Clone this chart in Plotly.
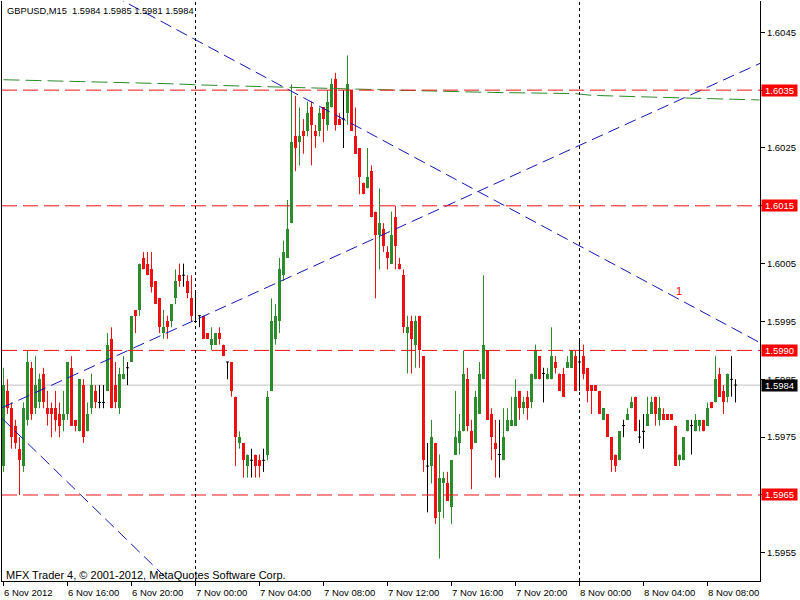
import plotly.graph_objects as go
from datetime import datetime, timedelta

# ---------------- data ----------------
start_time = datetime(2012, 11, 6, 12, 0)
bar_minutes = 15

opens = [1.5970, 1.5983, 1.5980, 1.5977, 1.5973, 1.5970, 1.5978, 1.5987, 1.5980, 1.5981,
         1.5986, 1.5980, 1.5980, 1.5980, 1.5979, 1.5978, 1.5979, 1.5987, 1.5978, 1.5976,
         1.5984, 1.5976, 1.5980, 1.5983, 1.5981, 1.5981, 1.5983, 1.5992, 1.5984, 1.5980,
         1.5985, 1.5987, 1.5988, 1.5997, 1.5997, 1.6006, 1.6005, 1.6004, 1.6002, 1.5999,
         1.5993, 1.5995, 1.5995, 1.5999, 1.6003, 1.6003, 1.6002, 1.5999, 1.5995, 1.5996,
         1.5996, 1.5993, 1.5991, 1.5991, 1.5993, 1.5991, 1.5988, 1.5988, 1.5982, 1.5974,
         1.5974, 1.5970, 1.5971, 1.5972, 1.5971, 1.5971, 1.5972, 1.5983, 1.5992, 1.5995,
         1.6003, 1.6006, 1.6012, 1.6027, 1.6026, 1.6028, 1.6028, 1.6032, 1.6028, 1.6028,
         1.6032, 1.6029, 1.6032, 1.6037, 1.6030, 1.6030, 1.6031, 1.6035, 1.6027, 1.6025,
         1.6019, 1.6018, 1.6021, 1.6014, 1.6010, 1.6011, 1.6007, 1.6005, 1.6013, 1.6005,
         1.6003, 1.5993, 1.5995, 1.5991, 1.5996, 1.5989, 1.5970, 1.5970, 1.5974, 1.5962,
         1.5967, 1.5967, 1.5963, 1.5972, 1.5974, 1.5976, 1.5985, 1.5976, 1.5974, 1.5979,
         1.5985, 1.5990, 1.5979, 1.5974, 1.5972, 1.5971, 1.5976, 1.5977, 1.5977, 1.5983,
         1.5980, 1.5982, 1.5981, 1.5985, 1.5989, 1.5986, 1.5985, 1.5985, 1.5988, 1.5986,
         1.5986, 1.5987, 1.5987, 1.5989, 1.5988, 1.5989, 1.5987, 1.5984, 1.5984, 1.5983,
         1.5978, 1.5979, 1.5975, 1.5972, 1.5971, 1.5977, 1.5978, 1.5980, 1.5982, 1.5975,
         1.5976, 1.5977, 1.5979, 1.5982, 1.5978, 1.5979, 1.5979, 1.5979, 1.5977, 1.5971,
         1.5971, 1.5976, 1.5977, 1.5976, 1.5977, 1.5978, 1.5977, 1.5981, 1.5981, 1.5986,
         1.5983, 1.5982, 1.5985, 1.5984]

highs = [1.5987, 1.5985, 1.5981, 1.5978, 1.5975, 1.5981, 1.5990, 1.5988, 1.5989, 1.5986,
         1.5987, 1.5983, 1.5981, 1.5983, 1.5981, 1.5983, 1.5988, 1.5989, 1.5978, 1.5985,
         1.5985, 1.5981, 1.5986, 1.5984, 1.5984, 1.5984, 1.5993, 1.5994, 1.5988, 1.5987,
         1.5989, 1.5988, 1.5996, 1.5997, 1.6005, 1.6007, 1.6007, 1.6007, 1.6002, 1.5999,
         1.5997, 1.5996, 1.5998, 1.6004, 1.6005, 1.6005, 1.6003, 1.6003, 1.6000, 1.5996,
         1.5996, 1.5993, 1.5994, 1.5993, 1.5994, 1.5991, 1.5988, 1.5988, 1.5982, 1.5976,
         1.5974, 1.5972, 1.5973, 1.5972, 1.5972, 1.5973, 1.5983, 1.5999, 1.5998, 1.6006,
         1.6009, 1.6016, 1.6036, 1.6034, 1.6032, 1.6030, 1.6033, 1.6033, 1.6029, 1.6032,
         1.6032, 1.6035, 1.6037, 1.6038, 1.6031, 1.6035, 1.6041, 1.6035, 1.6032, 1.6025,
         1.6019, 1.6025, 1.6022, 1.6014, 1.6018, 1.6012, 1.6008, 1.6014, 1.6015, 1.6006,
         1.6004, 1.5996, 1.5996, 1.5996, 1.5996, 1.5989, 1.5974, 1.5978, 1.5974, 1.5972,
         1.5969, 1.5969, 1.5971, 1.5983, 1.5979, 1.5990, 1.5987, 1.5978, 1.5983, 1.5988,
         1.6003, 1.5990, 1.5980, 1.5978, 1.5978, 1.5980, 1.5980, 1.5982, 1.5985, 1.5983,
         1.5982, 1.5983, 1.5986, 1.5991, 1.5989, 1.5987, 1.5987, 1.5994, 1.5989, 1.5986,
         1.5987, 1.5989, 1.5990, 1.5990, 1.5992, 1.5991, 1.5987, 1.5984, 1.5984, 1.5983,
         1.5980, 1.5979, 1.5975, 1.5972, 1.5976, 1.5978, 1.5980, 1.5982, 1.5982, 1.5978,
         1.5979, 1.5982, 1.5982, 1.5982, 1.5982, 1.5980, 1.5979, 1.5979, 1.5977, 1.5972,
         1.5975, 1.5978, 1.5978, 1.5979, 1.5978, 1.5978, 1.5981, 1.5981, 1.5989, 1.5987,
         1.5984, 1.5986, 1.5989, 1.5985]

lows = [1.5969, 1.5979, 1.5973, 1.5973, 1.5965, 1.5969, 1.5977, 1.5978, 1.5979, 1.5980,
        1.5980, 1.5977, 1.5975, 1.5976, 1.5975, 1.5976, 1.5978, 1.5977, 1.5976, 1.5976,
        1.5974, 1.5976, 1.5979, 1.5980, 1.5980, 1.5980, 1.5983, 1.5980, 1.5980, 1.5979,
        1.5985, 1.5984, 1.5988, 1.5993, 1.5996, 1.6004, 1.6003, 1.6000, 1.5998, 1.5993,
        1.5992, 1.5992, 1.5994, 1.5998, 1.6001, 1.6001, 1.5999, 1.5995, 1.5995, 1.5994,
        1.5992, 1.5992, 1.5990, 1.5991, 1.5991, 1.5989, 1.5985, 1.5982, 1.5970, 1.5973,
        1.5968, 1.5968, 1.5968, 1.5968, 1.5968, 1.5969, 1.5971, 1.5983, 1.5991, 1.5993,
        1.6002, 1.6006, 1.6012, 1.6021, 1.6022, 1.6024, 1.6027, 1.6022, 1.6025, 1.6027,
        1.6026, 1.6028, 1.6032, 1.6028, 1.6029, 1.6025, 1.6029, 1.6028, 1.6024, 1.6017,
        1.6017, 1.6018, 1.6013, 1.5999, 1.6004, 1.6007, 1.6004, 1.6005, 1.6004, 1.6004,
        1.5993, 1.5986, 1.5986, 1.5987, 1.5987, 1.5969, 1.5962, 1.5967, 1.5960, 1.5954,
        1.5961, 1.5964, 1.5960, 1.5972, 1.5972, 1.5976, 1.5976, 1.5966, 1.5974, 1.5979,
        1.5985, 1.5978, 1.5971, 1.5968, 1.5968, 1.5971, 1.5976, 1.5977, 1.5977, 1.5978,
        1.5979, 1.5978, 1.5980, 1.5985, 1.5985, 1.5981, 1.5985, 1.5985, 1.5986, 1.5983,
        1.5982, 1.5987, 1.5987, 1.5983, 1.5983, 1.5985, 1.5981, 1.5979, 1.5983, 1.5979,
        1.5978, 1.5975, 1.5969, 1.5969, 1.5971, 1.5975, 1.5978, 1.5980, 1.5976, 1.5974,
        1.5973, 1.5977, 1.5979, 1.5977, 1.5977, 1.5978, 1.5978, 1.5978, 1.5970, 1.5970,
        1.5971, 1.5976, 1.5972, 1.5976, 1.5976, 1.5976, 1.5977, 1.5980, 1.5981, 1.5982,
        1.5979, 1.5981, 1.5982, 1.5981]

closes = [1.5984, 1.5980, 1.5975, 1.5974, 1.5971, 1.5980, 1.5988, 1.5979, 1.5984, 1.5985,
          1.5981, 1.5979, 1.5979, 1.5978, 1.5977, 1.5979, 1.5988, 1.5977, 1.5977, 1.5985,
          1.5975, 1.5979, 1.5984, 1.5981, 1.5981, 1.5981, 1.5991, 1.5980, 1.5981, 1.5986,
          1.5986, 1.5987, 1.5996, 1.5996, 1.6005, 1.6004, 1.6003, 1.6001, 1.5998, 1.5994,
          1.5994, 1.5994, 1.5998, 1.6002, 1.6002, 1.6003, 1.6000, 1.5996, 1.5995, 1.5996,
          1.5992, 1.5992, 1.5992, 1.5993, 1.5992, 1.5989, 1.5988, 1.5983, 1.5975, 1.5975,
          1.5971, 1.5972, 1.5971, 1.5970, 1.5970, 1.5971, 1.5982, 1.5995, 1.5996, 1.6004,
          1.6007, 1.6011, 1.6026, 1.6025, 1.6027, 1.6027, 1.6031, 1.6029, 1.6027, 1.6031,
          1.6030, 1.6033, 1.6036, 1.6029, 1.6029, 1.6030, 1.6036, 1.6028, 1.6024, 1.6020,
          1.6017, 1.6020, 1.6013, 1.6010, 1.6012, 1.6008, 1.6006, 1.6010, 1.6008, 1.6004,
          1.5994, 1.5994, 1.5992, 1.5995, 1.5990, 1.5971, 1.5970, 1.5975, 1.5961, 1.5968,
          1.5968, 1.5964, 1.5971, 1.5975, 1.5976, 1.5986, 1.5977, 1.5973, 1.5982, 1.5986,
          1.5991, 1.5978, 1.5975, 1.5973, 1.5972, 1.5975, 1.5978, 1.5978, 1.5982, 1.5980,
          1.5981, 1.5980, 1.5986, 1.5990, 1.5985, 1.5986, 1.5986, 1.5989, 1.5987, 1.5983,
          1.5982, 1.5988, 1.5990, 1.5983, 1.5988, 1.5986, 1.5983, 1.5983, 1.5983, 1.5979,
          1.5980, 1.5975, 1.5971, 1.5970, 1.5976, 1.5977, 1.5979, 1.5981, 1.5976, 1.5975,
          1.5976, 1.5979, 1.5981, 1.5979, 1.5980, 1.5978, 1.5978, 1.5978, 1.5970, 1.5972,
          1.5975, 1.5978, 1.5977, 1.5978, 1.5978, 1.5976, 1.5980, 1.5980, 1.5985, 1.5982,
          1.5981, 1.5986, 1.5985, 1.5984]

# long moving average (green dashed), sampled at bar indices
ma_bars = [0, 14, 32, 42, 49, 62, 67, 87, 104, 122, 143, 147, 162, 174, 183, 189]
ma_values = [1.60368, 1.60366, 1.60363, 1.60361, 1.60359, 1.60357, 1.60355, 1.60352,
             1.60349, 1.60346, 1.60344, 1.60341, 1.60338, 1.60336, 1.60334, 1.60333]

# horizontal levels
levels = [1.6035, 1.6015, 1.5990, 1.5965]
bid_price = 1.5984

# trend lines: two anchor points (bar index, price)
trend_down = [(72, 1.60348), (183, 1.59936)]
trend_up = [(0, 1.59802), (183, 1.60377)]
trend_low = [(0, 1.59780), (40, 1.59511)]
trend_label_bar, trend_label_price = 168.75, 1.60003

price_ticks = [1.5955, 1.5965, 1.5975, 1.5985, 1.5995, 1.6005, 1.6015, 1.6025, 1.6035, 1.6045]
time_tick_bars = [0, 16, 32, 48, 64, 80, 96, 112, 128, 144, 160, 176]
time_tick_labels = ["6 Nov 2012", "6 Nov 16:00", "6 Nov 20:00", "7 Nov 00:00", "7 Nov 04:00",
                    "7 Nov 08:00", "7 Nov 12:00", "7 Nov 16:00", "7 Nov 20:00", "8 Nov 00:00",
                    "8 Nov 04:00", "8 Nov 08:00"]
separator_bars = [48, 144]

title_text = "GBPUSD,M15\u00a0 1.5984 1.5985 1.5981 1.5984"
footer_text = "MFX Trader 4, \u00a9 2001-2012, MetaQuotes Software Corp."

# ---------------- styling ----------------
GREEN = "#2c8c2c"
RED = "#ee1111"
BLUE = "#1414b4"
FONT = "Liberation Sans"

step = timedelta(minutes=bar_minutes)


def t(i):
    return start_time + step * i


n = len(opens)
times = [t(i) for i in range(n)]
half_body = step * 0.375

fig = go.Figure()

up_x, up_base, up_h = [], [], []
dn_x, dn_base, dn_h = [], [], []
wu_x, wu_y, wd_x, wd_y, dj_x, dj_y = [], [], [], [], [], []
for i in range(n):
    o, h, l, c = opens[i], highs[i], lows[i], closes[i]
    if c > o:
        up_x.append(times[i]); up_base.append(o); up_h.append(c - o)
        wu_x += [times[i], times[i], None]; wu_y += [h, l, None]
    elif c < o:
        dn_x.append(times[i]); dn_base.append(c); dn_h.append(o - c)
        wd_x += [times[i], times[i], None]; wd_y += [h, l, None]
    else:
        dj_x += [times[i], times[i], None, times[i] - half_body, times[i] + half_body, None]
        dj_y += [h, l, None, o, o, None]

fig.add_trace(go.Scatter(x=wu_x, y=wu_y, mode="lines", line=dict(color=GREEN, width=1),
                         hoverinfo="skip", showlegend=False))
fig.add_trace(go.Scatter(x=wd_x, y=wd_y, mode="lines", line=dict(color=RED, width=1),
                         hoverinfo="skip", showlegend=False))
fig.add_trace(go.Scatter(x=dj_x, y=dj_y, mode="lines", line=dict(color="black", width=1),
                         hoverinfo="skip", showlegend=False))
bar_w = step.total_seconds() * 1000 * 0.75
fig.add_trace(go.Bar(x=up_x, y=up_h, base=up_base, width=bar_w,
                     marker=dict(color=GREEN, line=dict(width=0)), showlegend=False))
fig.add_trace(go.Bar(x=dn_x, y=dn_h, base=dn_base, width=bar_w,
                     marker=dict(color=RED, line=dict(width=0)), showlegend=False))

# x range in bars (bar centres land on pixel centres)
x_lo_bar, x_hi_bar = -0.375, 189.125
y_lo, y_hi = 1.595013, 1.605041

# green MA
fig.add_trace(go.Scatter(x=[t(b) for b in ma_bars], y=ma_values, mode="lines",
                         line=dict(color="#2a8a2a", width=1, dash="16px,6px"),
                         hoverinfo="skip", showlegend=False))


def extend(anchor):
    (b1, p1), (b2, p2) = anchor
    s = (p2 - p1) / (b2 - b1)
    return ([t(x_lo_bar), t(x_hi_bar)],
            [p1 + s * (x_lo_bar - b1), p1 + s * (x_hi_bar - b1)])


for tl in (trend_down, trend_up, trend_low):
    xs, ys = extend(tl)
    fig.add_trace(go.Scatter(x=xs, y=ys, mode="lines",
                             line=dict(color=BLUE, width=1, dash="12px,6px"),
                             hoverinfo="skip", showlegend=False))

shapes = []
for lv in levels:
    shapes.append(dict(type="line", xref="paper", x0=0, x1=1, yref="y", y0=lv, y1=lv,
                       line=dict(color=RED, width=1, dash="15px,6px")))
shapes.append(dict(type="line", xref="paper", x0=0, x1=1, yref="y", y0=bid_price, y1=bid_price,
                   line=dict(color="#c0c0c0", width=1), layer="below"))
for sb in separator_bars:
    shapes.append(dict(type="line", xref="x", x0=t(sb), x1=t(sb), yref="paper", y0=0, y1=1,
                       line=dict(color="black", width=1, dash="3px,3px")))

annotations = []
for lab, b in zip(time_tick_labels, time_tick_bars):
    annotations.append(dict(x=t(b), xref="x", y=0, yref="paper", text=lab, showarrow=False,
                            xanchor="left", yanchor="middle", yshift=-11, xshift=-2,
                            font=dict(family=FONT, size=9.5, color="black")))
for lv in levels:
    annotations.append(dict(x=1, xref="paper", y=lv, yref="y", text="%.4f" % lv, showarrow=False,
                            xanchor="left", yanchor="middle", xshift=1, width=35, height=11,
                            borderpad=0, bgcolor="#ff0000",
                            font=dict(family=FONT, size=9.5, color="white")))
annotations.append(dict(x=1, xref="paper", y=bid_price, yref="y", text="%.4f" % bid_price,
                        showarrow=False, xanchor="left", yanchor="middle", xshift=1, width=35,
                        height=11, borderpad=0, bgcolor="black",
                        font=dict(family=FONT, size=9.5, color="white")))
annotations.append(dict(x=t(trend_label_bar), xref="x", y=trend_label_price, yref="y", text="1",
                        showarrow=False, font=dict(family=FONT, size=11, color="#ff0000")))
annotations.append(dict(x=0, xref="paper", y=1, yref="paper", text=title_text, showarrow=False,
                        xanchor="left", yanchor="top", xshift=3, yshift=-3,
                        font=dict(family=FONT, size=9.3, color="black")))
annotations.append(dict(x=0, xref="paper", y=0, yref="paper", text=footer_text, showarrow=False,
                        xanchor="left", yanchor="middle", xshift=2, yshift=6,
                        font=dict(family=FONT, size=11, color="black")))

# tick labels hidden behind the level boxes are left blank
hidden = set("%.4f" % lv for lv in levels)
tick_text = ["" if ("%.4f" % p) in hidden else "%.4f" % p for p in price_ticks]

fig.update_layout(
    width=800, height=600,
    margin=dict(l=2, r=40, t=1, b=19),
    paper_bgcolor="white", plot_bgcolor="white",
    barmode="overlay", bargap=0,
    shapes=shapes, annotations=annotations,
    showlegend=False,
    xaxis=dict(type="date", range=[t(x_lo_bar), t(x_hi_bar)], showgrid=False, zeroline=False,
               showline=True, linecolor="black", linewidth=1,
               tickvals=[t(b) for b in time_tick_bars], ticks="outside", ticklen=4,
               tickcolor="black", showticklabels=False),
    yaxis=dict(side="right", range=[y_lo, y_hi], showgrid=False, zeroline=False,
               showline=True, mirror=True, linecolor="black", linewidth=1,
               tickvals=price_ticks, ticktext=tick_text,
               ticks="outside", ticklen=4, tickcolor="black",
               tickfont=dict(family=FONT, size=9.5, color="black")),
)

fig.write_html("out.html", config={"displayModeBar": False},
               post_script="document.body.style.margin='0px';document.body.style.overflow='hidden';")
